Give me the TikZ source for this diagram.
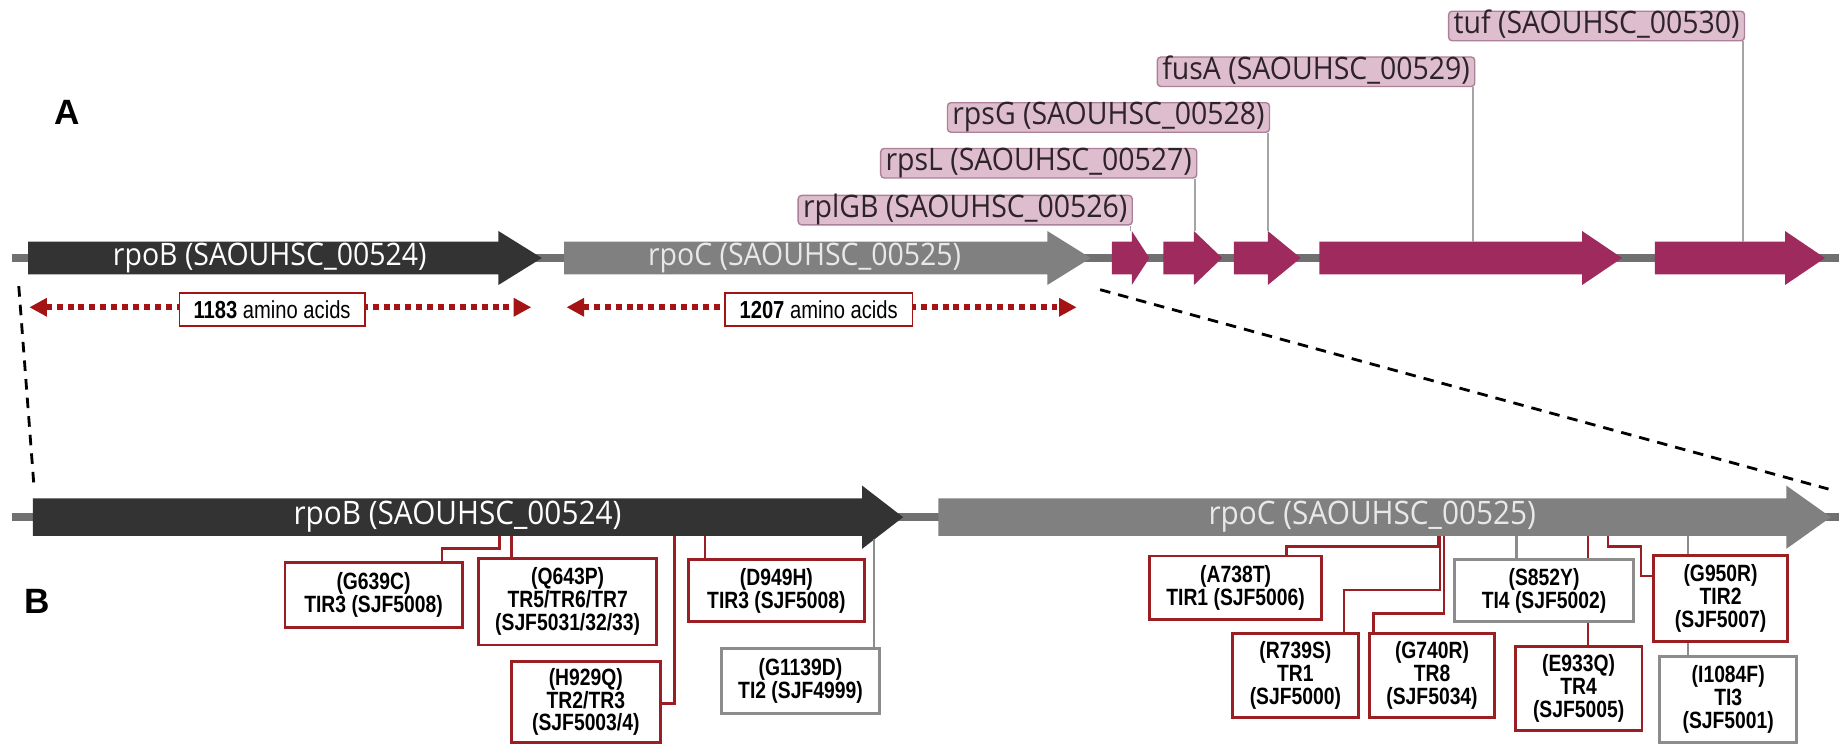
\documentclass[tikz,border=0pt]{standalone}
\usepackage{fontspec}
\setmainfont{Liberation Sans}
\newfontfamily\genefont[FakeStretch=0.92]{Open Sans}
\newfontfamily\narrowfont[FakeStretch=0.82]{Liberation Sans}
\usetikzlibrary{arrows.meta}

\definecolor{rpobdark}{RGB}{51,51,51}
\definecolor{rpocgray}{RGB}{128,128,128}
\definecolor{rpoctext}{RGB}{232,232,232}
\definecolor{operon}{RGB}{158,42,94}
\definecolor{spine}{RGB}{112,112,112}
\definecolor{tagfill}{RGB}{222,190,206}
\definecolor{tagline}{RGB}{172,128,150}
\definecolor{tagtext}{RGB}{45,35,40}
\definecolor{linkgray}{RGB}{165,165,165}
\definecolor{mutred}{RGB}{155,30,35}
\definecolor{mutgray}{RGB}{140,140,140}
\definecolor{aared}{RGB}{165,20,20}

% colour, start, head base, tip, centre y, half body, half head
\newcommand{\genearrow}[7]{%
  \fill[#1] ({#2},{#5-#6}) -- ({#3},{#5-#6}) -- ({#3},{#5-#7}) -- ({#4},{#5})
    -- ({#3},{#5+#7}) -- ({#3},{#5+#6}) -- ({#2},{#5+#6}) -- cycle;}

\begin{document}
\begin{tikzpicture}[
    x=0.11728mm, y=-0.11728mm,
    backbone/.style = {draw=spine, line width=2.3pt},
    genename/.style = {font=\genefont\fontsize{8.8}{9}\selectfont, text height=6.4pt, text depth=2pt, inner sep=0pt},
    genetag/.style = {draw=tagline, fill=tagfill, rounded corners=1pt, line width=0.4pt, text=tagtext,
                      font=\genefont\fontsize{8.8}{9}\selectfont, text height=6.2pt, text depth=2pt,
                      inner xsep=1.4pt, inner ysep=0.1pt, anchor=north east},
    taglink/.style = {draw=linkgray, line width=0.4pt},
    aalen/.style = {draw=aared, line width=1.7pt, dash pattern=on 1.7pt off 1.4pt,
                    {Triangle[length=5pt,width=5pt]}-{Triangle[length=5pt,width=5pt]}},
    aabox/.style = {draw=aared, fill=white, line width=0.5pt, minimum height=9.3pt, inner sep=0pt,
                    font=\narrowfont\fontsize{7}{8}\selectfont},
    zoomline/.style = {draw=black, line width=0.8pt, dash pattern=on 3pt off 2.3pt},
    mutbox/.style = {draw=mutred, fill=white, line width=0.8pt, align=center, inner sep=0pt,
                     font=\narrowfont\bfseries\fontsize{6.7}{6.5}\selectfont},
    silentbox/.style = {mutbox, draw=mutgray},
    mutlink/.style = {draw=mutred, line width=0.7pt},
    silentlink/.style = {draw=mutgray, line width=0.7pt},
    panel/.style = {font=\bfseries\fontsize{10}{11}\selectfont}
  ]
  \useasboundingbox (0,0) rectangle (1568,635);

  \node[panel] (panA) at (57,96) {A};
  \node[panel] (panB) at (32,513) {B};

  % Panel A: operon
  \draw[backbone] (10,220) -- (1568,220);
  \genearrow{rpobdark}{24}{425}{462}{220}{14}{23}
  \genearrow{rpocgray}{481}{893}{930}{220}{14}{23}
  \genearrow{operon}{948}{965}{980}{220}{14}{23}
  \genearrow{operon}{992}{1018}{1042}{220}{14}{23}
  \genearrow{operon}{1052}{1081}{1109}{220}{14}{23}
  \genearrow{operon}{1125}{1349}{1383}{220}{14}{23}
  \genearrow{operon}{1411}{1522}{1556}{220}{14}{23}
  \node[genename, text=white] (rpoBtop) at (230,220) {rpoB (SAOUHSC\_00524)};
  \node[genename, text=rpoctext] (rpoCtop) at (686,220) {rpoC (SAOUHSC\_00525)};

  \node[genetag] (tag526) at (966,166) {rplGB (SAOUHSC\_00526)};
  \node[genetag] (tag527) at (1021,126) {rpsL (SAOUHSC\_00527)};
  \node[genetag] (tag528) at (1083,87) {rpsG (SAOUHSC\_00528)};
  \node[genetag] (tag529) at (1258,48) {fusA (SAOUHSC\_00529)};
  \node[genetag] (tag530) at (1488,9) {tuf (SAOUHSC\_00530)};
  \coordinate (t526) at (964,197);
  \coordinate (t527) at (1019,197);
  \coordinate (t528) at (1081,197);
  \coordinate (t529) at (1256,206);
  \coordinate (t530) at (1486,206);
  \foreach \g in {526,527,528,529,530}
    \draw[taglink] (tag\g.south -| t\g) -- (t\g);

  % protein lengths
  \coordinate (aaB1) at (25,262);
  \coordinate (aaB2) at (453,262);
  \coordinate (aaC1) at (483,262);
  \coordinate (aaC2) at (918,262);
  \draw[aalen] (aaB1) -- (aaB2);
  \draw[aalen] (aaC1) -- (aaC2);
  \node[aabox, minimum width=52.7pt] (lenB) at (232,264) {\textbf{1183} amino acids};
  \node[aabox, minimum width=53.4pt] (lenC) at (698,264) {\textbf{1207} amino acids};

  % zoom
  \coordinate (zl1) at (16,244);
  \coordinate (zl2) at (29,415);
  \coordinate (zr1) at (938,247);
  \coordinate (zr2) at (1559,417);
  \draw[zoomline] (zl1) -- (zl2);
  \draw[zoomline] (zr1) -- (zr2);

  % Panel B: rpoB / rpoC with mutations
  \draw[backbone] (10,441) -- (1568,441);
  \genearrow{rpobdark}{28}{735}{770}{441}{16}{27}
  \genearrow{rpocgray}{800}{1523}{1561}{441}{16}{27}
  \node[genename, text=white, font=\genefont\fontsize{9.2}{10}\selectfont] (rpoBbot) at (390,441) {rpoB (SAOUHSC\_00524)};
  \node[genename, text=rpoctext, font=\genefont\fontsize{9.2}{10}\selectfont] (rpoCbot) at (1170,441) {rpoC (SAOUHSC\_00525)};

  \node[mutbox, minimum width=50.4pt, minimum height=18.4pt] (G639C) at (318.5,507.5) {(G639C)\\TIR3 (SJF5008)};
  \node[mutbox, minimum width=50.7pt, minimum height=24.7pt] (Q643P) at (484,513) {(Q643P)\\TR5/TR6/TR7\\(SJF5031/32/33)};
  \node[mutbox, minimum width=42.4pt, minimum height=23pt] (H929Q) at (499.5,598.5) {(H929Q)\\TR2/TR3\\(SJF5003/4)};
  \node[mutbox, minimum width=50.1pt, minimum height=17.7pt] (D949H) at (662,503.5) {(D949H)\\TIR3 (SJF5008)};
  \node[silentbox, minimum width=45pt, minimum height=18.4pt] (G1139D) at (682.5,580.5) {(G1139D)\\TI2 (SJF4999)};

  \node[mutbox, minimum width=49.1pt, minimum height=18pt] (A738T) at (1053.5,501) {(A738T)\\TIR1 (SJF5006)};
  \node[mutbox, minimum width=35.7pt, minimum height=24pt] (R739S) at (1104.5,576) {(R739S)\\TR1\\(SJF5000)};
  \node[mutbox, minimum width=35.4pt, minimum height=24pt] (G740R) at (1221,576) {(G740R)\\TR8\\(SJF5034)};
  \node[silentbox, minimum width=51.1pt, minimum height=17.7pt] (S852Y) at (1316.5,503.5) {(S852Y)\\TI4 (SJF5002)};
  \node[mutbox, minimum width=36pt, minimum height=24pt] (E933Q) at (1346,587) {(E933Q)\\TR4\\(SJF5005)};
  \node[mutbox, minimum width=38pt, minimum height=24.4pt] (G950R) at (1467,510.5) {(G950R)\\TIR2\\(SJF5007)};
  \node[silentbox, minimum width=39pt, minimum height=24.4pt] (I1084F) at (1473.5,596.5) {(I1084F)\\TI3\\(SJF5001)};

  \coordinate (c639) at (426,457);
  \coordinate (c643) at (436,457);
  \coordinate (c929) at (575,457);
  \coordinate (c949) at (601,457);
  \coordinate (c1139) at (745,460);
  \coordinate (c738) at (1226,457);
  \coordinate (c739) at (1228,457);
  \coordinate (c740) at (1231,457);
  \coordinate (c852) at (1293,457);
  \coordinate (c933) at (1354,457);
  \coordinate (c950) at (1371,457);
  \coordinate (c1084) at (1439,457);

  \draw[mutlink] (c639) |- (377,467.5) -- (G639C.north -| 377,0);
  \draw[mutlink] (c643) -- (Q643P.north -| c643);
  \draw[mutlink] (c929) |- (H929Q.east |- 0,600);
  \draw[mutlink] (c949) -- (D949H.north -| c949);
  \draw[silentlink] (c1139) -- (G1139D.north -| c1139);

  \draw[mutlink] (c738) |- (1097,466) -- (A738T.north -| 1097,0);
  \draw[mutlink] (c739) |- (1146,503) -- (R739S.north -| 1146,0);
  \draw[mutlink] (c740) |- (1171,523) -- (G740R.north -| 1171,0);
  \draw[silentlink] (c852) -- (S852Y.north -| c852);
  \draw[mutlink] (c933) -- (S852Y.north -| c933);
  \draw[mutlink] (S852Y.south -| c933) -- (E933Q.north -| c933);
  \draw[mutlink] (c950) |- (1399,466) |- (G950R.west |- 0,491);
  \draw[silentlink] (c1084) -- (G950R.north -| c1084);
  \draw[silentlink] (G950R.south -| c1084) -- (I1084F.north -| c1084);
\end{tikzpicture}
\end{document}
